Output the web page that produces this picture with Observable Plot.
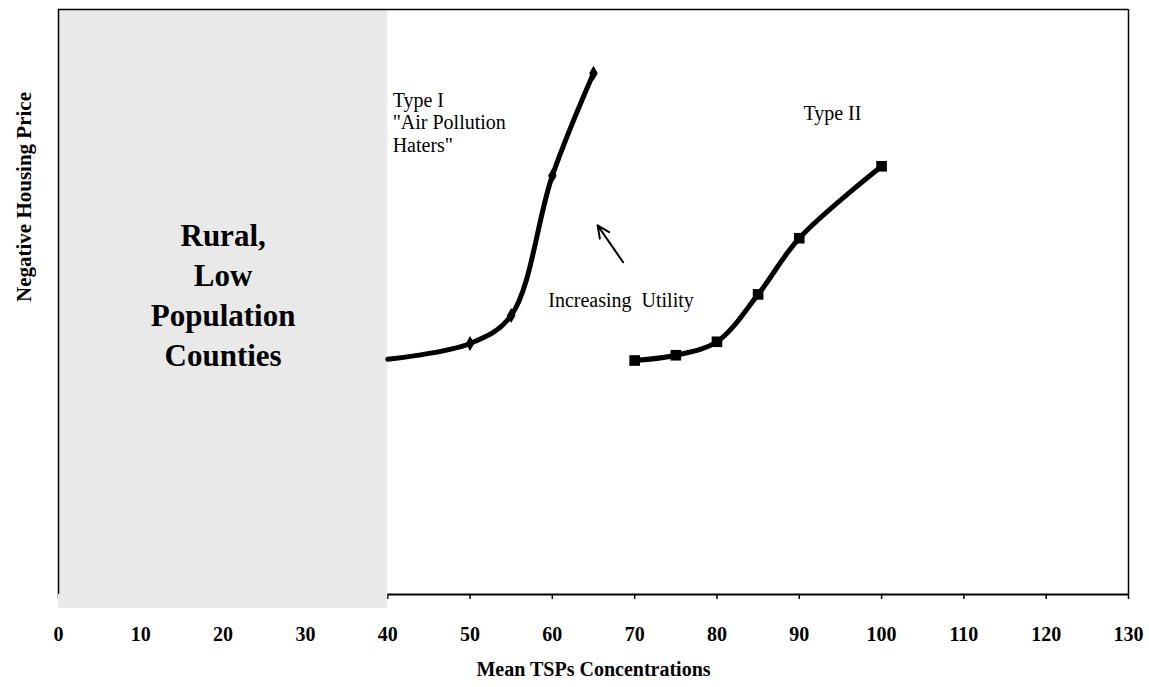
<!DOCTYPE html>
<html>
<head>
<meta charset="utf-8">
<script src="https://cdn.jsdelivr.net/npm/d3@7"></script>
<script src="https://cdn.jsdelivr.net/npm/@observablehq/plot@0.6"></script>
<style>
  body { margin: 0; background: white; }
</style>
</head>
<body>
<div id="chart"></div>
<script>
// values (y is an unlabelled index, 0 = axis, 100 = top)
let typeIX = [40, 50, 55, 60, 65];
let typeIY = [40.2, 42.9, 47.7, 71.6, 89.1];
let typeIIX = [70, 75, 80, 85, 90, 100];
let typeIIY = [40.0, 40.9, 43.2, 51.3, 60.9, 73.2];
let xTicks = [0, 10, 20, 30, 40, 50, 60, 70, 80, 90, 100, 110, 120, 130];
let ruralBand = [{x1: 0, x2: 40}];
let arrowPts = [{x1: 68.6, y1: 56.8, x2: 65.5, y2: 63.1}];

let typeI = typeIX.map((x, i) => ({x, y: typeIY[i]}));
let typeII = typeIIX.map((x, i) => ({x, y: typeIIY[i]}));

const serif = "Liberation Serif, Times New Roman, serif";

let chart = Plot.plot({
  width: 1149,
  height: 687,
  marginTop: 9,
  marginBottom: 93,
  marginLeft: 58,
  marginRight: 21,
  style: {
    background: "white",
    fontFamily: serif,
    color: "black",
  },
  x: {domain: [0, 130]},
  y: {domain: [0, 100]},
  marks: [
    // frame: right and the axis line from 40 on
    Plot.ruleX([130], {strokeWidth: 1.5}),
    Plot.ruleY([0], {x1: 40, x2: 130, strokeWidth: 2}),
    Plot.axisX({
      ticks: xTicks,
      tickSize: 5,
      tickPadding: 27,
      fontSize: 20,
      fontWeight: "bold",
      label: null,
      strokeWidth: 1.5,
    }),
    Plot.axisY({ticks: [], label: null}),
    // shaded rural region
    Plot.rect(ruralBand, {
      x1: "x1", x2: "x2", y1: 0, y2: 100,
      fill: "#e9e9e9",
      insetBottom: -14,
    }),
    Plot.ruleX([0], {strokeWidth: 1.5}),
    Plot.ruleY([100], {strokeWidth: 1.5}),
    Plot.text(["Rural,\nLow\nPopulation\nCounties"], {
      x: 20, y: 51.5,
      fontSize: 31,
      fontWeight: "bold",
      lineHeight: 1.29,
      fill: "black",
    }),
    // curves
    Plot.line(typeI, {x: "x", y: "y", curve: "catmull-rom", strokeWidth: 5, stroke: "black"}),
    Plot.dot(typeI.filter(d => d.x > 40), {x: "x", y: "y", symbol: "diamond", r: 4.5, fill: "black"}),
    Plot.line(typeII, {x: "x", y: "y", curve: "catmull-rom", strokeWidth: 5, stroke: "black"}),
    Plot.dot(typeII, {x: "x", y: "y", symbol: "square", r: 6, fill: "black"}),
    Plot.arrow(arrowPts, {
      x1: "x1", y1: "y1", x2: "x2", y2: "y2",
      stroke: "black", strokeWidth: 2, headLength: 10, headAngle: 50,
    }),
    // annotations
    Plot.text(['Type I\n"Air Pollution\nHaters"'], {
      x: 40.6, y: 86.1,
      textAnchor: "start", lineAnchor: "top",
      fontSize: 20, lineHeight: 1.13, fill: "black",
    }),
    Plot.text(["Type II"], {
      x: 90.5, y: 82.2, textAnchor: "start", fontSize: 20, fill: "black",
    }),
    Plot.text(["Increasing  Utility"], {
      x: 59.5, y: 50.3, textAnchor: "start", fontSize: 20, fill: "black",
    }),
    // axis titles
    Plot.text(["Mean TSPs Concentrations"], {
      frameAnchor: "bottom", dy: 81, fontSize: 20, fontWeight: "bold", fill: "black",
    }),
    Plot.text(["Negative Housing Price"], {
      frameAnchor: "left", dx: -34, rotate: -90, fontSize: 21, fontWeight: "bold", fill: "black",
    }),
  ],
});

d3.select("#chart").append(() => chart);
</script>
</body>
</html>
